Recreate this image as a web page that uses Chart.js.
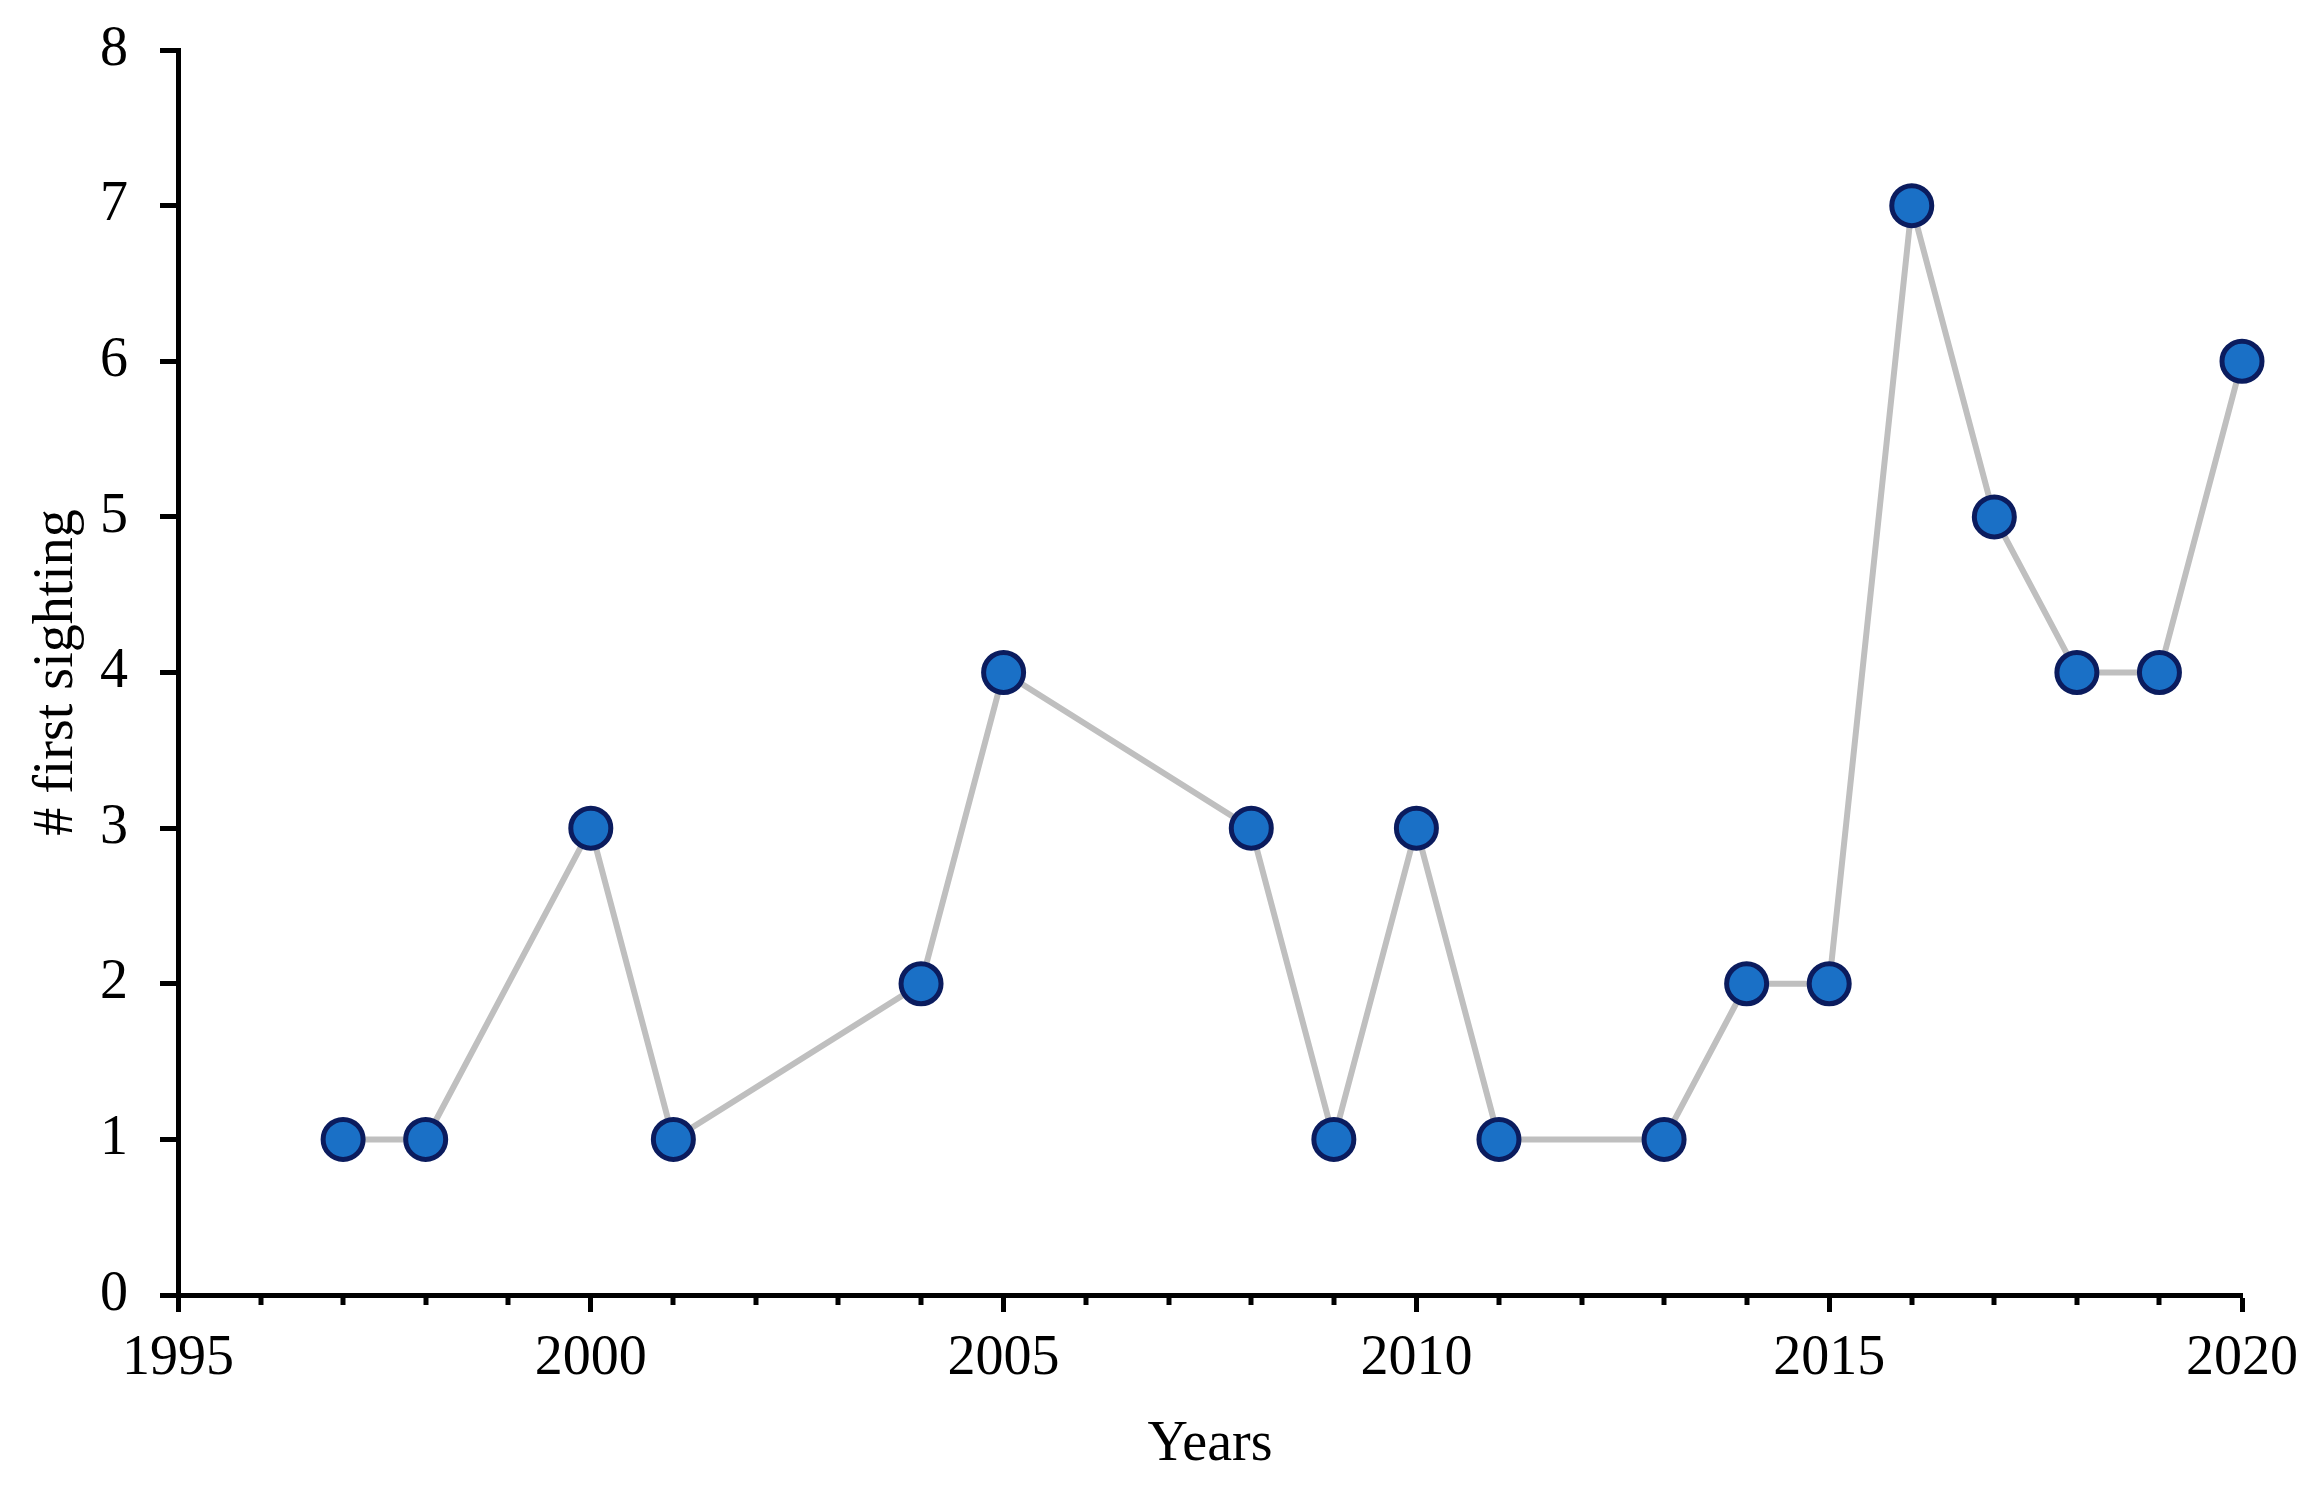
<!DOCTYPE html>
<html>
<head>
<meta charset="utf-8">
<title>First sightings per year</title>
<script src="https://cdn.jsdelivr.net/npm/chart.js@4.4.1/dist/chart.umd.min.js"></script>
<style>
	html, body { margin: 0; padding: 0; background: #fff; }
	#wrap { width: 2322px; height: 1485px; }
</style>
</head>
<body>
<div id="wrap"><canvas id="sightings-chart" width="2322" height="1485"></canvas></div>
<script>
	// values
	var years = [1997, 1998, 2000, 2001, 2004, 2005, 2008, 2009, 2010, 2011, 2013, 2014, 2015, 2016, 2017, 2018, 2019, 2020];
	var sightings = [1, 1, 3, 1, 2, 4, 3, 1, 3, 1, 1, 2, 2, 7, 5, 4, 4, 6];
	var minorYears = [1996, 1997, 1998, 1999, 2001, 2002, 2003, 2004, 2006, 2007, 2008, 2009, 2011, 2012, 2013, 2014, 2016, 2017, 2018, 2019];

	var fontFamily = '"Liberation Serif", "Times New Roman", serif';

	// small ticks between the labelled years
	var minorTicks = {
		id: 'minorTicks',
		afterDatasetsDraw: function(chart) {
			var xs = chart.scales.x;
			var ctx = chart.ctx;
			var base = chart.chartArea.bottom;
			ctx.save();
			ctx.strokeStyle = '#000';
			ctx.lineWidth = 5;
			minorYears.forEach(function(y) {
				var px = Math.round(xs.getPixelForValue(y));
				ctx.beginPath();
				ctx.moveTo(px, base);
				ctx.lineTo(px, base + 10);
				ctx.stroke();
			});
			ctx.restore();
		}
	};

	var points = years.map(function(y, i) {
		return { x: y, y: sightings[i] };
	});

	var sightings_chart = new Chart(document.getElementById('sightings-chart'), {
		type: 'line',
		data: {
			datasets: [{
				data: points,
				borderColor: '#bfbfbf',
				borderWidth: 6,
				tension: 0,
				pointRadius: 20,
				pointHoverRadius: 20,
				pointBackgroundColor: '#1a70c6',
				pointBorderColor: '#0b1c5e',
				pointBorderWidth: 5,
				clip: false
			}]
		},
		options: {
			responsive: false,
			animation: false,
			events: [],
			layout: {
				padding: { left: 0, top: 50, right: 80, bottom: 0 }
			},
			plugins: {
				legend: { display: false },
				tooltip: { enabled: false }
			},
			scales: {
				x: {
					type: 'linear',
					min: 1995,
					max: 2020,
					afterFit: function(scale) {
						scale.height = 190;
						scale.paddingLeft = 0;
						scale.paddingRight = 0;
					},
					border: { display: true, color: '#000', width: 5 },
					grid: {
						drawOnChartArea: false,
						drawTicks: true,
						tickLength: 17,
						tickWidth: 5,
						tickColor: '#000'
					},
					ticks: {
						stepSize: 5,
						padding: 14,
						color: '#000',
						maxRotation: 0,
						font: { family: fontFamily, size: 56 },
						callback: function(v) { return String(v); }
					},
					title: {
						display: true,
						text: 'Years',
						color: '#000',
						padding: { top: 0, bottom: 6 },
						font: { family: fontFamily, size: 56 }
					}
				},
				y: {
					min: 0,
					max: 8,
					afterFit: function(scale) {
						scale.width = 178;
						scale.paddingTop = 0;
						scale.paddingBottom = 0;
					},
					border: { display: true, color: '#000', width: 5 },
					grid: {
						drawOnChartArea: false,
						drawTicks: true,
						tickLength: 18,
						tickWidth: 5,
						tickColor: '#000'
					},
					ticks: {
						stepSize: 1,
						padding: 32,
						color: '#000',
						font: { family: fontFamily, size: 56 }
					},
					title: {
						display: true,
						text: '# first sighting',
						color: '#000',
						padding: { top: 24, bottom: 0 },
						font: { family: fontFamily, size: 56 }
					}
				}
			}
		},
		plugins: [minorTicks]
	});
</script>
</body>
</html>
